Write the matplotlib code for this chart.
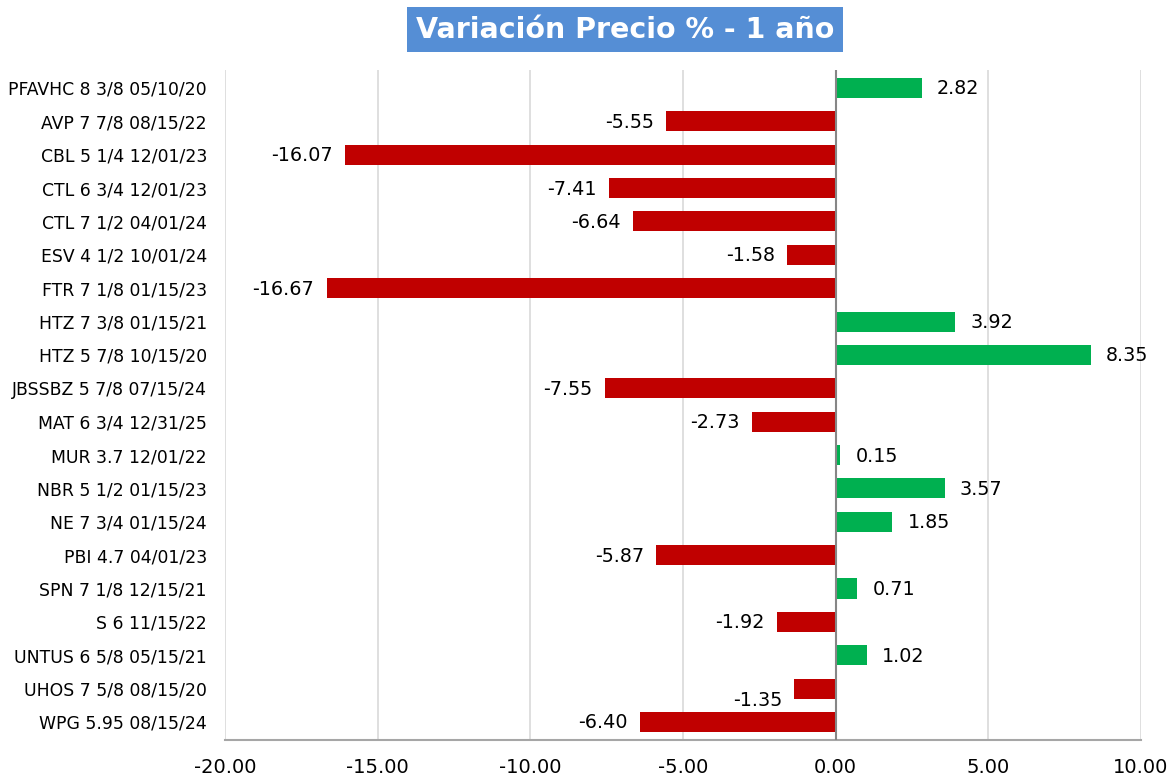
import numpy as np
import matplotlib
matplotlib.use("Agg")
from matplotlib import pyplot as plt
from matplotlib.ticker import MultipleLocator, FormatStrFormatter

plt.rcParams['font.family'] = ['DejaVu Sans']

bonds = ['PFAVHC 8 3/8 05/10/20', 'AVP 7 7/8 08/15/22', 'CBL 5 1/4 12/01/23',
         'CTL 6 3/4 12/01/23', 'CTL 7 1/2 04/01/24', 'ESV 4 1/2 10/01/24',
         'FTR 7 1/8 01/15/23', 'HTZ 7 3/8 01/15/21', 'HTZ 5 7/8 10/15/20',
         'JBSSBZ 5 7/8 07/15/24', 'MAT 6 3/4 12/31/25', 'MUR 3.7 12/01/22',
         'NBR 5 1/2 01/15/23', 'NE 7 3/4 01/15/24', 'PBI 4.7 04/01/23',
         'SPN 7 1/8 12/15/21', 'S 6 11/15/22', 'UNTUS 6 5/8 05/15/21',
         'UHOS 7 5/8 08/15/20', 'WPG 5.95 08/15/24']
variation = [2.82, -5.55, -16.07, -7.41, -6.64, -1.58, -16.67, 3.92, 8.35, -7.55,
             -2.73, 0.15, 3.57, 1.85, -5.87, 0.71, -1.92, 1.02, -1.35, -6.40]

green = '#00B050'
red = '#C00000'

fig = plt.figure(figsize=(11.73, 7.8), dpi=100)
ax = fig.add_axes([0.1918, 0.0513, 0.7809, 0.859])

y = np.arange(len(bonds))
colors = [green if v >= 0 else red for v in variation]
ax.barh(y, variation, height=0.6, color=colors, zorder=3)

ax.set_ylim(len(bonds) - 0.46, -0.54)
ax.set_xlim(-20, 10)
ax.xaxis.set_major_locator(MultipleLocator(5))
ax.xaxis.set_major_formatter(FormatStrFormatter('%.2f'))
ax.set_yticks(y)
ax.set_yticklabels(bonds, fontsize=12.4)
ax.tick_params(axis='x', labelsize=14, length=0, pad=13)
ax.tick_params(axis='y', length=0, pad=13)

ax.grid(axis='x', color='#D9D9D9', linewidth=1.2, zorder=0)
for s in ['top', 'right', 'left']:
	ax.spines[s].set_visible(False)
ax.spines['bottom'].set_color('#A6A6A6')
ax.spines['bottom'].set_linewidth(1.5)
ax.axvline(0, color='#868686', linewidth=1.5, zorder=4)

for i, v in enumerate(variation):
	dy = 0.03
	if bonds[i].startswith('UHOS'):
		dy = 0.35
	if v >= 0:
		ax.annotate('%.2f' % v, (v, i + dy), xytext=(11, 0), textcoords='offset points',
			ha='left', va='center', fontsize=13.8)
	else:
		ax.annotate('%.2f' % v, (v, i + dy), xytext=(-9, 0), textcoords='offset points',
			ha='right', va='center', fontsize=13.8)

fig.text(0.533, 0.962, 'Variación Precio % - 1 año', ha='center', va='center',
	fontsize=20.5, fontweight='bold', color='white',
	bbox=dict(facecolor='#558ED5', edgecolor='none', boxstyle='square,pad=0.3'))

plt.savefig('out.png', dpi=100)
